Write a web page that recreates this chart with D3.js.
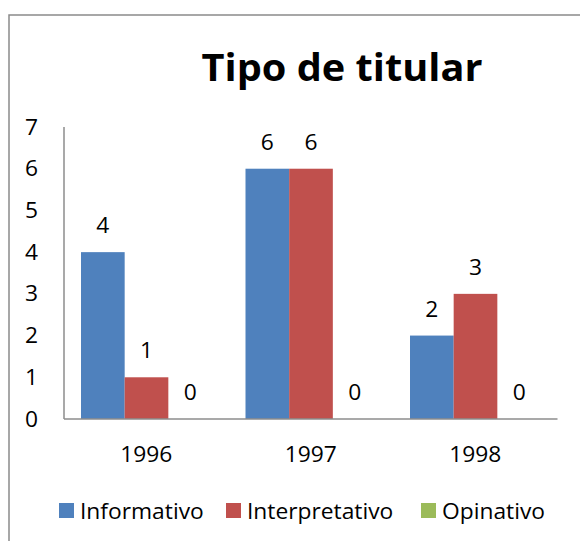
<!DOCTYPE html>
<html>
<head>
<meta charset="utf-8">
<script src="https://cdn.jsdelivr.net/npm/d3@7"></script>
<style>
  body { margin: 0; background: #fff; }
  text { font-family: "Open Sans", sans-serif; fill: #000; font-size: 21px; }
</style>
</head>
<body>
<svg id="chart" width="580" height="541"></svg>
<script>
// data
const years = ["1996", "1997", "1998"];
const seriesNames = ["Informativo", "Interpretativo", "Opinativo"];
const informativo = [4, 6, 2];
const interpretativo = [1, 6, 3];
const opinativo = [0, 0, 0];
const yTicks = [0, 1, 2, 3, 4, 5, 6, 7];
const colors = ["#4F81BD", "#C0504D", "#9BBB59"];

const values = [informativo, interpretativo, opinativo];
const rows = years.map((yr, i) => ({
  year: yr,
  vals: seriesNames.map((s, j) => ({ name: s, v: values[j][i], c: colors[j] }))
}));

// the reference text is a bit wide, stretch it horizontally
const sx = 1.085;
const place = (x, y) => `translate(${x},${y}) scale(${sx},1)`;

const svg = d3.select("#chart");

// chart border (runs off the right and bottom edges)
svg.append("rect")
  .attr("x", 9).attr("y", 15)
  .attr("width", 600).attr("height", 560)
  .attr("fill", "none")
  .attr("stroke", "#8a8a8a")
  .attr("stroke-width", 1.5);

// title
svg.append("text")
  .attr("x", 342).attr("y", 81)
  .attr("text-anchor", "middle")
  .style("font-size", "37px")
  .style("font-weight", "bold")
  .attr("textLength", 281)
  .attr("lengthAdjust", "spacingAndGlyphs")
  .text("Tipo de titular");

const plotL = 64, plotR = 557.5, plotT = 127, plotB = 419;

const y = d3.scaleLinear().domain([0, 7]).range([plotB, plotT]);
const x0 = d3.scaleBand().domain(years).range([plotL, plotR]);
const x1 = d3.scaleBand().domain(seriesNames).range([17, 148]);

// y tick labels
svg.selectAll(".ytick").data(yTicks).enter().append("text")
  .attr("class", "ytick")
  .attr("transform", d => place(38, y(d) + 7.5))
  .attr("text-anchor", "end")
  .text(d => d);

// bars
const g = svg.selectAll(".grp").data(rows).enter().append("g")
  .attr("class", "grp")
  .attr("transform", d => `translate(${x0(d.year)},0)`);

g.selectAll("rect").data(d => d.vals).enter().append("rect")
  .attr("x", d => x1(d.name))
  .attr("width", x1.bandwidth())
  .attr("y", d => y(d.v))
  .attr("height", d => plotB - y(d.v))
  .attr("fill", d => d.c);

// value labels
g.selectAll(".val").data(d => d.vals).enter().append("text")
  .attr("class", "val")
  .attr("transform", d => place(x1(d.name) + x1.bandwidth() / 2, y(d.v) - 19))
  .attr("text-anchor", "middle")
  .text(d => d.v);

// axes lines
svg.append("line")
  .attr("x1", plotL).attr("x2", plotL)
  .attr("y1", plotT).attr("y2", plotB)
  .attr("stroke", "#8c8c8c").attr("stroke-width", 1.5);
svg.append("line")
  .attr("x1", plotL).attr("x2", plotR)
  .attr("y1", plotB).attr("y2", plotB)
  .attr("stroke", "#8c8c8c").attr("stroke-width", 1.5);

// category labels
svg.selectAll(".xlab").data(years).enter().append("text")
  .attr("class", "xlab")
  .attr("transform", d => place(x0(d) + x0.bandwidth() / 2, 462))
  .attr("text-anchor", "middle")
  .text(d => d);

// legend
const legX = [59, 226, 421];
const leg = svg.selectAll(".leg").data(seriesNames).enter().append("g")
  .attr("class", "leg")
  .attr("transform", (d, i) => `translate(${legX[i]},503)`);
leg.append("rect")
  .attr("width", 15).attr("height", 15)
  .attr("fill", (d, i) => colors[i]);
leg.append("text")
  .attr("transform", place(21, 15.5))
  .text(d => d);
</script>
</body>
</html>
